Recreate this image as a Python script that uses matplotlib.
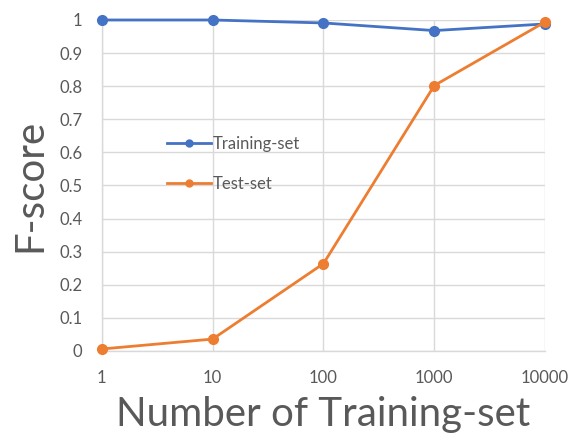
import matplotlib.pyplot as plt
from matplotlib.lines import Line2D

# training set sizes and F-scores
sizes = [1, 10, 100, 1000, 10000]
train_score = [1.0, 1.0, 0.991, 0.968, 0.988]
test_score = [0.006, 0.036, 0.264, 0.802, 0.994]
y_ticks = [0, 0.1, 0.2, 0.3, 0.4, 0.5, 0.6, 0.7, 0.8, 0.9, 1]
y_labels = ['0', '0.1', '0.2', '0.3', '0.4', '0.5', '0.6', '0.7', '0.8', '0.9', '1']
x_labels = ['1', '10', '100', '1000', '10000']

plt.rcParams['font.family'] = ['Lato', 'DejaVu Sans']
text_gray = '#595959'
grid_gray = '#d9d9d9'
blue = '#4472c4'
orange = '#ed7d31'

fig = plt.figure(figsize=(5.72, 4.44), dpi=100)
ax = fig.add_axes([0.178, 0.2095, 0.775, 0.7455])

ax.plot(sizes, train_score, color=blue, linewidth=2, marker='o',
        markersize=7, clip_on=False, zorder=3)
ax.plot(sizes, test_score, color=orange, linewidth=2, marker='o',
        markersize=7, clip_on=False, zorder=4)

ax.set_xscale('log')
ax.set_xlim(1, 10000)
ax.set_ylim(0, 1)
ax.set_xticks(sizes)
ax.set_xticklabels(x_labels)
ax.minorticks_off()
ax.set_yticks(y_ticks)
ax.set_yticklabels(y_labels)

ax.grid(True, color=grid_gray, linewidth=1)
ax.set_axisbelow(True)
for side in ['top', 'right']:
    ax.spines[side].set_visible(False)
for side in ['left', 'bottom']:
    ax.spines[side].set_color(grid_gray)
    ax.spines[side].set_linewidth(1)
ax.tick_params(length=0, colors=text_gray, labelsize=12)
ax.tick_params(axis='x', pad=14)
ax.tick_params(axis='y', pad=14)

ax.set_ylabel('F-score', fontsize=29, color=text_gray, labelpad=8)
ax.set_xlabel('Number of Training-set', fontsize=29, color=text_gray, labelpad=7)

# legend with smaller markers than the plotted series
handles = [Line2D([], [], color=blue, linewidth=2, marker='o', markersize=5),
           Line2D([], [], color=orange, linewidth=2, marker='o', markersize=5)]
leg = ax.legend(handles, ['Training-set', 'Test-set'], loc='upper left',
                bbox_to_anchor=(0.133, 0.671), frameon=False, fontsize=12,
                handlelength=2.6, handletextpad=0.1, labelspacing=1.45,
                borderaxespad=0)
for t in leg.get_texts():
    t.set_color(text_gray)

fig.savefig('out.png', dpi=100)
